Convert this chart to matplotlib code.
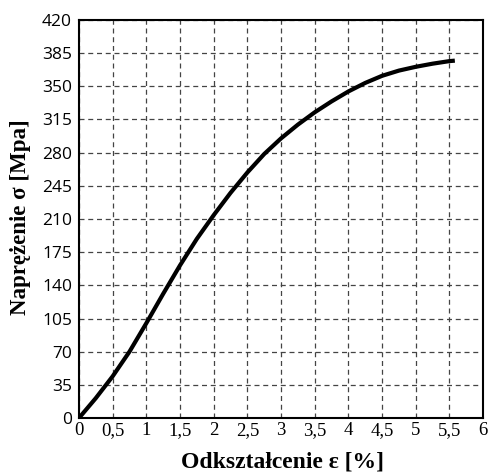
import numpy as np
import matplotlib
matplotlib.use("Agg")
import matplotlib.pyplot as plt
from matplotlib.ticker import FixedLocator

# strain [%] and stress [MPa]
strain = [0, 0.25, 0.5, 0.75, 1.0, 1.25, 1.5, 1.75, 2.0, 2.25, 2.5, 2.75, 3.0,
          3.25, 3.5, 3.75, 4.0, 4.25, 4.5, 4.75, 5.0, 5.25, 5.5, 5.58]
stress = [0, 21, 44, 70, 100, 131, 161, 189, 214, 237.5, 259, 278.5, 295,
          309.5, 322.5, 334, 344.5, 353.5, 361, 366.5, 370.5, 373.8, 376.5, 377]

x_ticks = [0, 0.5, 1, 1.5, 2, 2.5, 3, 3.5, 4, 4.5, 5, 5.5, 6]
x_labels = ["0", "0,5", "1", "1,5", "2", "2,5", "3", "3,5", "4", "4,5", "5", "5,5", "6"]
y_ticks = list(range(0, 421, 35))

fig = plt.figure(figsize=(4.9, 4.73), dpi=100)
ax = fig.add_axes([0.161, 0.116, 0.825, 0.842])

ax.plot(strain, stress, color="black", linewidth=3, solid_capstyle="butt",
        solid_joinstyle="round")

ax.set_xlim(0, 6)
ax.set_ylim(0, 420)
ax.xaxis.set_major_locator(FixedLocator(x_ticks))
ax.set_xticklabels(x_labels, fontfamily="Liberation Serif", fontsize=13.5)
ax.yaxis.set_major_locator(FixedLocator(y_ticks))
ax.set_yticklabels([str(v) for v in y_ticks], fontfamily="Open Sans", fontsize=12.5)
ax.tick_params(axis="x", length=0, pad=3)
ax.tick_params(axis="y", length=0, pad=5)

ax.grid(True, color="#444444", linestyle=(0, (4, 3)), linewidth=0.9)
for s in ax.spines.values():
    s.set_linewidth(1.5)
    s.set_color("black")

ax.set_xlabel("Odkształcenie ε [%]", fontfamily="Liberation Serif",
              fontweight="bold", fontsize=17)
ax.set_ylabel("Naprężenie σ [Mpa]", fontfamily="Liberation Serif",
              fontweight="bold", fontsize=16.5)
ax.xaxis.set_label_coords(0.504, -0.085)
ax.yaxis.set_label_coords(-0.118, 0.504)

fig.savefig("out.png", dpi=100)
